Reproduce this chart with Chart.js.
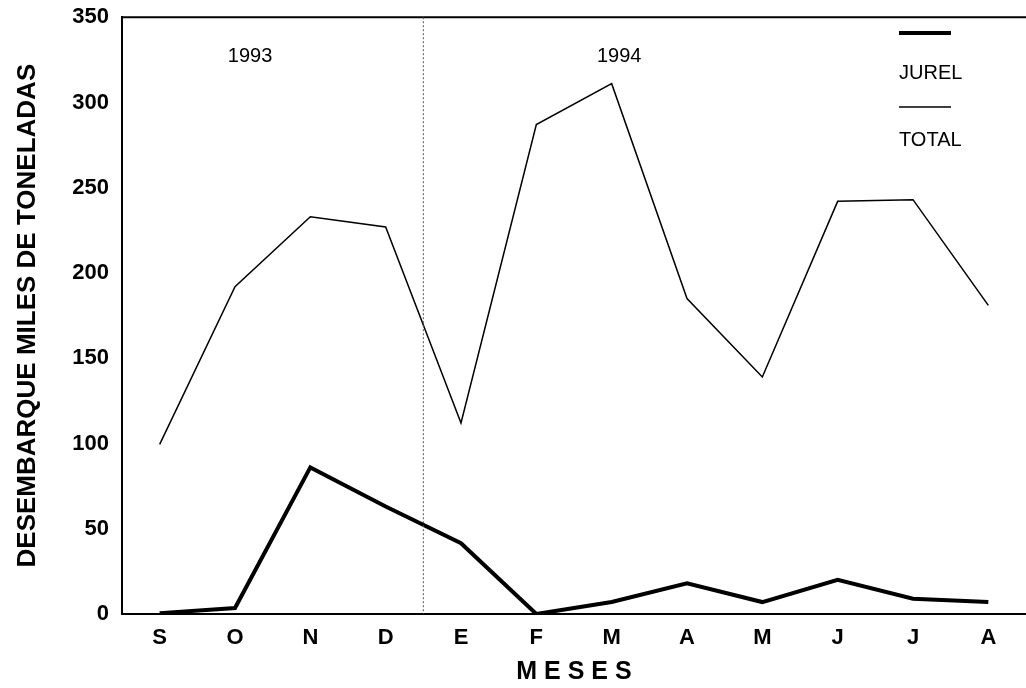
<!DOCTYPE html>
<html>
<head>
<meta charset="utf-8">
<script src="https://cdn.jsdelivr.net/npm/chart.js@4"></script>
<style>
  html, body { margin: 0; padding: 0; background: #fff; }
  #wrap { width: 1026px; height: 688px; }
</style>
</head>
<body>
<div id="wrap"><canvas id="c" width="1026" height="688"></canvas></div>
<script>
// meses sep 1993 - ago 1994
var meses = ['S', 'O', 'N', 'D', 'E', 'F', 'M', 'A', 'M', 'J', 'J', 'A'];
var jurel = [0.5, 3.5, 86, 63, 41.5, 0, 7, 18, 7, 20, 9, 7];
var total = [99.5, 192, 233, 227, 112, 287, 311, 185, 139, 242, 243, 181];
var yTicks = [0, 50, 100, 150, 200, 250, 300, 350];
var years = ['1993', '1994'];
var yearPos = [1.2, 6.1];   // en indices de mes
var corte = 3.5;            // entre D y E

var fuente = '"Liberation Sans", Arial, sans-serif';

var extras = {
  id: 'extras',
  afterDatasetsDraw: function (chart) {
    var ctx = chart.ctx, a = chart.chartArea;
    var x = chart.scales.x, y = chart.scales.y;
    ctx.save();
    // linea superior
    ctx.strokeStyle = '#000';
    ctx.lineWidth = 2;
    ctx.beginPath();
    ctx.moveTo(a.left, a.top);
    ctx.lineTo(a.right, a.top);
    ctx.stroke();
    // division de años
    var xc = x.getPixelForValue(corte);
    ctx.strokeStyle = '#555';
    ctx.lineWidth = 1;
    ctx.setLineDash([2, 2]);
    ctx.beginPath();
    ctx.moveTo(xc, a.top);
    ctx.lineTo(xc, a.bottom);
    ctx.stroke();
    ctx.setLineDash([]);
    // años
    ctx.fillStyle = '#000';
    ctx.strokeStyle = '#000';
    ctx.font = '20px ' + fuente;
    ctx.textAlign = 'center';
    ctx.textBaseline = 'middle';
    for (var i = 0; i < years.length; i++) {
      ctx.fillText(years[i], x.getPixelForValue(yearPos[i]), y.getPixelForValue(327));
    }
    // leyenda
    var lx = 899, lw = 52;
    ctx.textAlign = 'left';
    ctx.lineWidth = 4;
    ctx.beginPath(); ctx.moveTo(lx, 33); ctx.lineTo(lx + lw, 33); ctx.stroke();
    ctx.fillText(chart.data.datasets[0].label, lx, 73);
    ctx.lineWidth = 1.5;
    ctx.beginPath(); ctx.moveTo(lx, 107); ctx.lineTo(lx + lw, 107); ctx.stroke();
    ctx.fillText(chart.data.datasets[1].label, lx, 140);
    ctx.restore();
  }
};

new Chart(document.getElementById('c'), {
  type: 'line',
  data: {
    labels: meses,
    datasets: [
      { label: 'JUREL', data: jurel, borderColor: '#000', borderWidth: 4, pointRadius: 0, tension: 0 },
      { label: 'TOTAL', data: total, borderColor: '#000', borderWidth: 1.5, pointRadius: 0, tension: 0 }
    ]
  },
  options: {
    responsive: false,
    animation: false,
    layout: { padding: { top: 16, right: 0, bottom: 0, left: 0 } },
    plugins: { legend: { display: false }, tooltip: { enabled: false } },
    scales: {
      x: {
        offset: true,
        afterFit: function (s) { s.height = 74; },
        grid: { display: false, drawTicks: true, tickLength: 8, tickColor: '#000' },
        border: { color: '#000', width: 2 },
        ticks: { color: '#000', padding: 3, font: { family: fuente, size: 22, weight: 'bold' } },
        title: { display: true, text: 'M E S E S', color: '#000', padding: { top: 0, bottom: 1 },
                 font: { family: fuente, size: 25, weight: 'bold' } }
      },
      y: {
        min: 0, max: 350,
        afterFit: function (s) { s.width = 122; },
        afterBuildTicks: function (s) { s.ticks = yTicks.map(function (v) { return { value: v }; }); },
        grid: { display: false, drawTicks: true, tickLength: 9, tickColor: '#000' },
        border: { color: '#000', width: 2 },
        ticks: { color: '#000', padding: 4, font: { family: fuente, size: 22, weight: 'bold' } },
        title: { display: true, text: 'DESEMBARQUE MILES DE TONELADAS', color: '#000', padding: { top: 12, bottom: 0 },
                 font: { family: fuente, size: 26, weight: 'bold' } }
      }
    }
  },
  plugins: [extras]
});
</script>
</body>
</html>
